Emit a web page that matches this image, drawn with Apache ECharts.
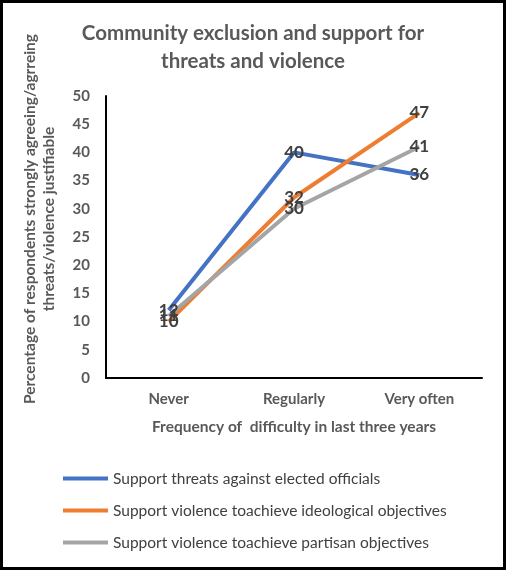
<!DOCTYPE html>
<html>
<head>
<meta charset="utf-8">
<script src="https://cdn.jsdelivr.net/npm/echarts@6/dist/echarts.min.js"></script>
<style>
html,body{margin:0;padding:0;background:#fff;}
#c{width:506px;height:570px;}
</style>
</head>
<body>
<div id="c"></div>
<script>
const categories = ['Never', 'Regularly', 'Very often'];
const seriesNames = [
  'Support threats against elected officials',
  'Support violence toachieve ideological objectives',
  'Support violence toachieve partisan objectives'
];
const threatsOfficials = [12, 40, 36];
const violenceIdeological = [10, 32, 47];
const violencePartisan = [11, 30, 41];
const colors = ['#4472C4', '#ED7D31', '#A5A5A5'];

const FONT = 'Lato, "Open Sans", sans-serif';
const chart = echarts.init(document.getElementById('c'));

function mk(name, data, color) {
  return {
    name: name, type: 'line', data: data,
    symbol: 'circle', symbolSize: 0, showSymbol: true,
    lineStyle: {color: color, width: 4},
    itemStyle: {color: color},
    label: {show: true, position: 'inside', color: '#404040', fontFamily: FONT, fontSize: 17, fontWeight: 'bold'},
    emphasis: {disabled: true},
    animation: false
  };
}

chart.setOption({
  animation: false,
  backgroundColor: '#fff',
  title: {
    text: 'Community exclusion and support for\nthreats and violence',
    left: 'center', top: 14,
    textStyle: {fontFamily: FONT, fontSize: 20.5, fontWeight: 'bold', color: '#595959', lineHeight: 28}
  },
  grid: {left: 106, right: 24, top: 96, bottom: 192},
  legend: {
    orient: 'vertical', left: 58, top: 464,
    icon: 'rect', itemWidth: 45, itemHeight: 4, itemGap: 13,
    textStyle: {fontFamily: FONT, fontSize: 15.5, color: '#404040', lineHeight: 19},
    data: seriesNames
  },
  xAxis: {
    type: 'category', data: categories, boundaryGap: true,
    axisLine: {lineStyle: {color: '#000', width: 2}},
    axisTick: {show: false},
    axisLabel: {fontFamily: FONT, fontSize: 15, fontWeight: 'bold', color: '#595959', margin: 14},
    name: 'Frequency of  difficulty in last three years',
    nameLocation: 'middle', nameGap: 41,
    nameTextStyle: {fontFamily: FONT, fontSize: 15.5, fontWeight: 'bold', color: '#595959'}
  },
  yAxis: {
    type: 'value', min: 0, max: 50, interval: 5,
    axisLine: {show: true, lineStyle: {color: '#000', width: 2}},
    axisTick: {show: false},
    splitLine: {show: false},
    axisLabel: {fontFamily: FONT, fontSize: 15, fontWeight: 'bold', color: '#595959', margin: 16}
  },
  graphic: [
    {type: 'rect', shape: {x: 1.5, y: 1.5, width: 503, height: 567}, style: {fill: 'none', stroke: '#000', lineWidth: 3}, z: 100},
    {type: 'text', x: 39, y: 219, rotation: Math.PI / 2,
     style: {text: 'Percentage of respondents strongly agreeing/agrreing\nthreats/violence justifiable',
       textAlign: 'center', textVerticalAlign: 'middle', fontFamily: FONT, fontSize: 15.5, fontWeight: 'bold',
       fill: '#595959', lineHeight: 19}}
  ],
  series: [
    mk(seriesNames[0], threatsOfficials, colors[0]),
    mk(seriesNames[1], violenceIdeological, colors[1]),
    mk(seriesNames[2], violencePartisan, colors[2])
  ]
});
</script>
</body>
</html>
